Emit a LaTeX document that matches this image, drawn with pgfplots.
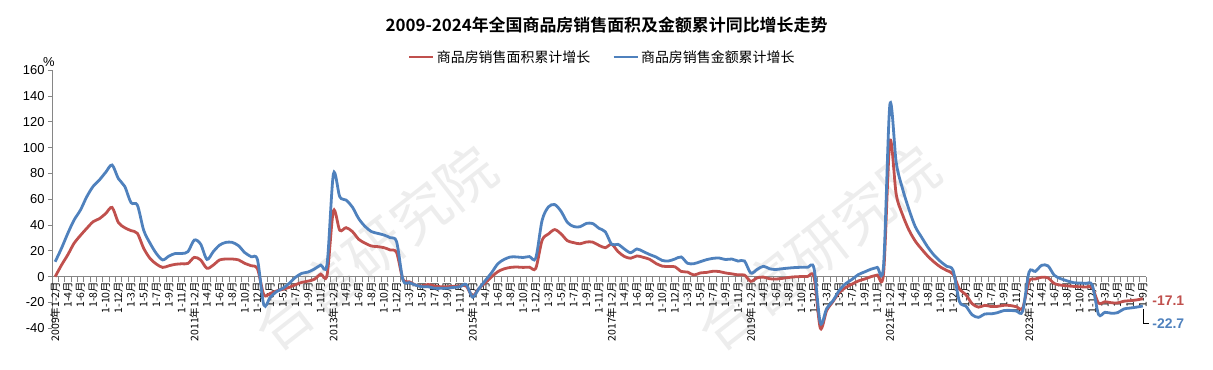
\documentclass[border=0pt]{standalone}
\usepackage{fontspec}
\setmainfont{Liberation Sans}
\newfontfamily\cjk{Noto Sans CJK SC}[BoldFont={Noto Sans CJK SC Bold}]
\usepackage{pgfplots}
\usepackage{pgfplotstable}
\pgfplotsset{compat=1.18}
\definecolor{redline}{HTML}{C0504D}
\definecolor{blueline}{HTML}{4F81BD}
\definecolor{axisgray}{HTML}{868686}
\pgfplotstableread{
i area amount
0 0 11.6
1 9 22
2 17 33.6
3 26 44
4 32 51.7
5 37.5 62
6 42.6 70
7 45 75
8 49 81
9 53.7 86.6
10 42 76
11 38 70
12 35.7 57.4
13 33.6 55.5
14 22 36
15 14.2 26
16 9.8 18
17 7.2 13
18 8.5 16
19 9.6 18
20 10 18
21 10.3 19.4
22 15 28.4
23 13 25.3
24 6.5 13.4
25 9 19.4
26 13 24.5
27 13.7 26.6
28 13.7 26.6
29 13 24
30 10.3 18.6
31 8.5 15.5
32 6 13
33 -14 -22
34 -13 -16
35 -11 -11.6
36 -9.8 -9
37 -8.3 -5.2
38 -6.2 -0.5
39 -4.4 2.6
40 -3.4 3.6
41 -2 6
42 2 9
43 1.3 9.8
44 51 79.6
45 36 62
46 38 59.4
47 35 54
48 29 45
49 26 39
50 23.8 35
51 23.3 33.6
52 22.5 32.3
53 20.7 30.2
54 18.6 27
55 -2 -2.6
56 -3.9 -4.6
57 -6.5 -6.5
58 -7.2 -7.8
59 -6 -7.8
60 -7.2 -9
61 -7.8 -9
62 -7.8 -9
63 -7.5 -8.3
64 -7.2 -7.8
65 -7.2 -6
66 -15 -15.8
67 -9.2 -9.3
68 -4.8 -3.1
69 -0.2 3.0
70 3.9 10.0
71 6.1 13.4
72 7.2 15.3
73 7.5 15.3
74 7.2 14.9
75 7.4 15.6
76 6.5 14.4
77 28.2 43.6
78 33.1 54.1
79 36.5 55.9
80 33.2 50.7
81 27.9 42.1
82 26.4 38.9
83 25.5 38.7
84 26.9 41.3
85 26.8 41.2
86 24.3 37.5
87 22.5 34.8
88 25.1 25.1
89 19.5 25.1
90 15.7 21.5
91 14.3 18.6
92 16.1 21.5
93 15.0 19.5
94 13.5 17.2
95 10.3 15.3
96 8.2 12.6
97 7.9 12.2
98 7.7 13.7
99 4.1 15.3
100 3.6 10.4
101 1.3 10.1
102 2.9 11.6
103 3.3 13.2
104 4.2 14.2
105 4.0 14.5
106 2.9 13.3
107 2.2 13.7
108 1.4 12.1
109 1.3 12.2
110 -3.6 2.8
111 -0.9 5.6
112 -0.3 8.1
113 -1.6 6.1
114 -1.8 5.6
115 -1.3 6.2
116 -0.6 6.7
117 -0.1 7.1
118 0.1 7.3
119 0.2 7.3
120 -0.1 6.5
121 -39.9 -35.9
122 -26.3 -24.7
123 -19.3 -18.6
124 -12.3 -10.6
125 -8.4 -5.4
126 -5.8 -2.1
127 -3.3 1.6
128 -1.8 3.7
129 0.0 5.8
130 1.3 7.2
131 2.6 8.7
132 104.9 133.4
133 63.8 88.5
134 48.1 68.2
135 36.3 52.4
136 27.7 38.9
137 21.5 30.7
138 15.9 22.9
139 11.3 16.6
140 7.5 11.8
141 4.8 8.0
142 1.9 4.8
143 -9.6 -19.3
144 -13.8 -22.7
145 -20.9 -29.5
146 -23.6 -31.5
147 -22.2 -28.9
148 -23.1 -28.8
149 -23.0 -27.9
150 -22.2 -26.3
151 -22.3 -26.1
152 -23.3 -26.6
153 -24.3 -26.7
154 -3.6 3.5
155 -1.8 4.1
156 -0.4 8.8
157 -0.9 8.4
158 -5.3 1.1
159 -6.5 -1.5
160 -7.1 -3.2
161 -7.5 -4.6
162 -7.8 -4.9
163 -8.0 -5.2
164 -8.5 -6.5
165 -20.5 -29.3
166 -19.4 -27.6
167 -20.2 -28.3
168 -20.3 -27.9
169 -19.0 -25.0
170 -18.6 -24.3
171 -18.0 -23.6
172 -17.1 -22.7
}\datatable
\begin{document}
\begin{tikzpicture}
\useasboundingbox (0bp,0bp) rectangle (1213bp,370bp);
% watermark
\node[rotate=38, text=gray!14, font=\cjk\fontsize{58}{58}\selectfont] at (375bp,122bp) {合富研究院};
\node[rotate=38, text=gray!14, font=\cjk\fontsize{58}{58}\selectfont] at (818bp,122bp) {合富研究院};
% title
\node[font=\cjk\bfseries\fontsize{17}{17}\selectfont] at (606.5bp,345bp) {2009-2024年全国商品房销售面积及金额累计同比增长走势};
\node[font=\fontsize{13}{13}\selectfont] at (49bp,308bp) {\%};
\begin{axis}[
  at={(52bp,41.7bp)}, anchor=south west, scale only axis,
  width=1094bp, height=258bp,
  xmin=-0.5, xmax=172.5, ymin=-40, ymax=160,
  axis x line*=middle, axis y line*=left,
  axis line style={axisgray, line width=0.8bp},
  clip=false,
  ytick={-40,-20,...,160},
  yticklabel style={font=\fontsize{13}{13}\selectfont, text=black, /pgf/number format/assume math mode=true},
  major tick length=4bp,
  minor tick length=5bp,
  tick align=outside,
  ytick style={axisgray, line width=0.8bp},
  xtick={0,2,...,172},
  major x tick style={draw=none},
  minor xtick={-0.5,0.5,...,172.5},
  minor x tick style={axisgray, line width=0.6bp},
  xticklabels={2009年1-2月,1-4月,1-6月,1-8月,1-10月,1-12月,1-3月,1-5月,1-7月,1-9月,1-11月,
   2011年1-2月,1-4月,1-6月,1-8月,1-10月,1-12月,1-3月,1-5月,1-7月,1-9月,1-11月,
   2013年1-2月,1-4月,1-6月,1-8月,1-10月,1-12月,1-3月,1-5月,1-7月,1-9月,1-11月,
   2015年1-2月,1-4月,1-6月,1-8月,1-10月,1-12月,1-3月,1-5月,1-7月,1-9月,1-11月,
   2017年1-2月,1-4月,1-6月,1-8月,1-10月,1-12月,1-3月,1-5月,1-7月,1-9月,1-11月,
   2019年1-2月,1-4月,1-6月,1-8月,1-10月,1-12月,1-3月,1-5月,1-7月,1-9月,1-11月,
   2021年1-2月,1-4月,1-6月,1-8月,1-10月,1-12月,1-3月,1-5月,1-7月,1-9月,1-11月,
   2023年1-2月,1-4月,1-6月,1-8月,1-10月,1-12月,1-3月,1-5月,1-7月,1-9月},
  x tick label style={rotate=90, anchor=east, font=\cjk\fontsize{10.5}{10.5}\selectfont, text=black, inner sep=1bp},
  legend style={at={(0.503,1.0516)}, anchor=center, draw=none, fill=none,
     font=\cjk\fontsize{14}{14}\selectfont, legend columns=2,
     /tikz/every even column/.append style={column sep=20bp}},
  legend image code/.code={\draw[#1, line width=2.8bp] (0bp,0bp) -- (24bp,0bp);},
]
\addplot[redline, line width=2.8bp, smooth] table[x=i, y=area] {\datatable};
\addlegendentry{商品房销售面积累计增长}
\addplot[blueline, line width=2.8bp, smooth] table[x=i, y=amount] {\datatable};
\addlegendentry{商品房销售金额累计增长}
\node[anchor=west, text=redline, font=\bfseries\fontsize{14}{14}\selectfont] at ([xshift=6bp,yshift=-2bp]axis cs:172,-17.1) {-17.1};
\node[anchor=west, text=blueline, font=\bfseries\fontsize{14}{14}\selectfont] at ([xshift=6bp,yshift=-18bp]axis cs:172,-22.7) {-22.7};
\draw[black, line width=0.6bp] ([yshift=-3bp]axis cs:172,-22.7) -- ++(0bp,-14bp) -- ++(6bp,0bp);
\end{axis}
\end{tikzpicture}
\end{document}
